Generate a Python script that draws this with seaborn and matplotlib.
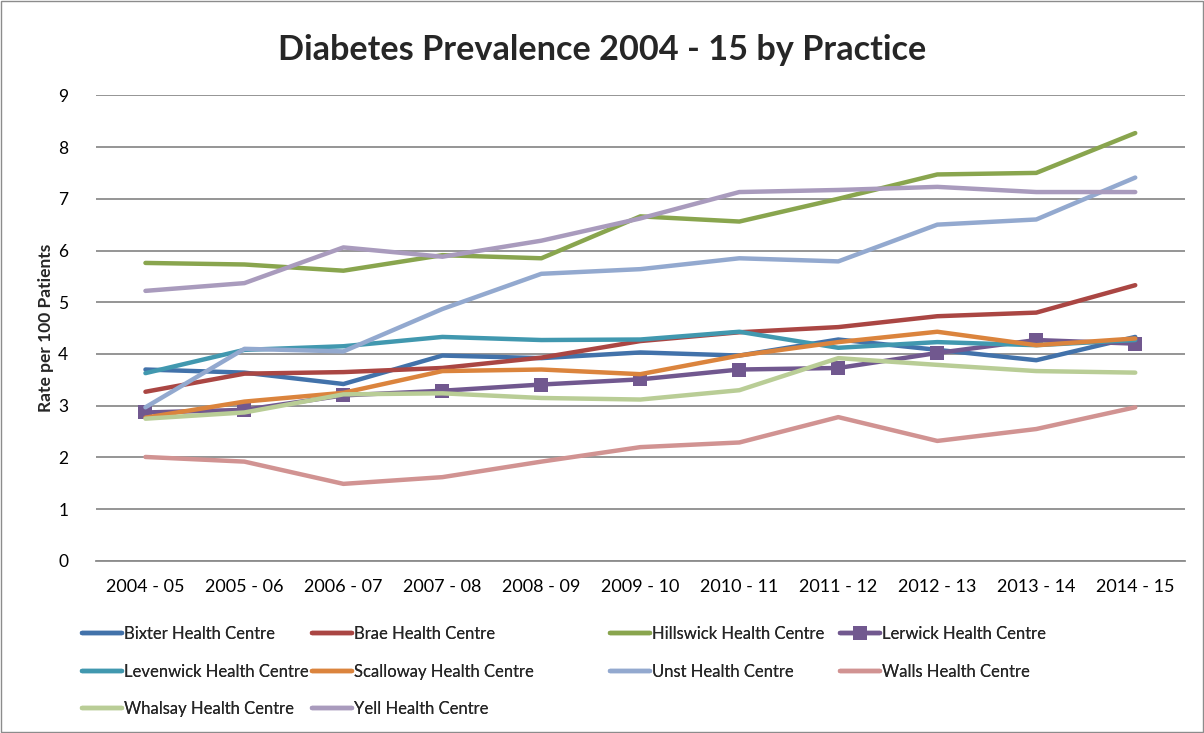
import pandas as pd
import matplotlib.pyplot as plt
import seaborn as sns

# data
periods = ['2004 - 05', '2005 - 06', '2006 - 07', '2007 - 08', '2008 - 09', '2009 - 10',
           '2010 - 11', '2011 - 12', '2012 - 13', '2013 - 14', '2014 - 15']

bixter = [3.70, 3.64, 3.42, 3.97, 3.92, 4.03, 3.97, 4.28, 4.08, 3.88, 4.33]
brae = [3.27, 3.62, 3.65, 3.73, 3.93, 4.25, 4.42, 4.52, 4.73, 4.80, 5.33]
hillswick = [5.76, 5.73, 5.61, 5.91, 5.85, 6.66, 6.56, 7.00, 7.47, 7.50, 8.27]
lerwick = [2.87, 2.92, 3.20, 3.29, 3.41, 3.51, 3.70, 3.73, 4.02, 4.27, 4.20]
levenwick = [3.63, 4.08, 4.15, 4.33, 4.27, 4.28, 4.43, 4.12, 4.23, 4.17, 4.27]
scalloway = [2.77, 3.08, 3.25, 3.67, 3.70, 3.61, 3.97, 4.23, 4.43, 4.17, 4.30]
unst = [2.97, 4.10, 4.05, 4.87, 5.55, 5.64, 5.85, 5.79, 6.50, 6.60, 7.41]
walls = [2.01, 1.92, 1.49, 1.62, 1.92, 2.20, 2.29, 2.78, 2.32, 2.55, 2.97]
whalsay = [2.75, 2.87, 3.22, 3.24, 3.15, 3.12, 3.30, 3.92, 3.79, 3.67, 3.64]
yell = [5.22, 5.37, 6.06, 5.88, 6.19, 6.62, 7.13, 7.17, 7.23, 7.13, 7.13]

practices = ['Bixter Health Centre', 'Brae Health Centre', 'Hillswick Health Centre',
             'Lerwick Health Centre', 'Levenwick Health Centre', 'Scalloway Health Centre',
             'Unst Health Centre', 'Walls Health Centre', 'Whalsay Health Centre',
             'Yell Health Centre']
series = [bixter, brae, hillswick, lerwick, levenwick, scalloway, unst, walls, whalsay, yell]
colors = ['#4272AA', '#AA4643', '#89A54E', '#71588F', '#4198AF',
          '#DB843D', '#93A9CF', '#D19392', '#B9CD96', '#A99BBD']

sns.set_theme(style='white')
plt.rcParams['font.family'] = ['Lato', 'DejaVu Sans']

fig = plt.figure(figsize=(12.04, 7.33), dpi=100)
ax = fig.add_axes([0.0797, 0.2347, 0.9043, 0.6353])

handles = {}
for name, vals, col in zip(practices, series, colors):
    is_lerwick = name.startswith('Lerwick')
    sns.lineplot(x=periods, y=vals, ax=ax, color=col, linewidth=3.2, sort=False,
                 marker='s' if is_lerwick else None, markersize=9.5,
                 markeredgewidth=0, label=name, legend=False)
    handles[name] = ax.lines[-1]

ax.set_xlim(-0.5, len(periods) - 0.5)
ax.set_ylim(0, 9)
ax.set_yticks(range(0, 10))
ax.grid(axis='y', color='#8C8C8C', linewidth=1.3)
ax.grid(axis='x', visible=False)
for side in ['top', 'right', 'left']:
    ax.spines[side].set_visible(False)
ax.spines['bottom'].set_color('#8C8C8C')
ax.spines['bottom'].set_linewidth(1.3)
ax.tick_params(axis='both', length=0, colors='black')
ax.tick_params(axis='x', pad=13, labelsize=13)
ax.tick_params(axis='y', pad=20, labelsize=12.5)
ax.set_ylabel('Rate per 100 Patients', fontsize=12.5, fontweight='bold', labelpad=3)
ax.set_xlabel('')

fig.suptitle('Diabetes Prevalence 2004 - 15 by Practice', fontsize=24.7,
             fontweight='bold', y=0.953)

# Excel lays the legend out row by row in 4 columns of its own widths,
# so draw one single-column legend per column
legend_cols = [
    (['Bixter Health Centre', 'Levenwick Health Centre', 'Whalsay Health Centre'], 82),
    (['Brae Health Centre', 'Scalloway Health Centre', 'Yell Health Centre'], 312),
    (['Hillswick Health Centre', 'Unst Health Centre'], 610),
    (['Lerwick Health Centre', 'Walls Health Centre'], 840),
]
for names, x_px in legend_cols:
    leg = fig.legend([handles[n] for n in names], names, loc='upper left',
                     bbox_to_anchor=(x_px / 1204, 0.146), frameon=False, fontsize=12,
                     handlelength=2.4, handletextpad=0.15, labelspacing=1.3,
                     borderpad=0, borderaxespad=0)
    fig.add_artist(leg)

fig.patches.append(plt.Rectangle((0.001, 0.001), 0.998, 0.998, transform=fig.transFigure,
                                 fill=False, edgecolor='#8C8C8C', linewidth=1))

plt.savefig('out.png', dpi=100)
